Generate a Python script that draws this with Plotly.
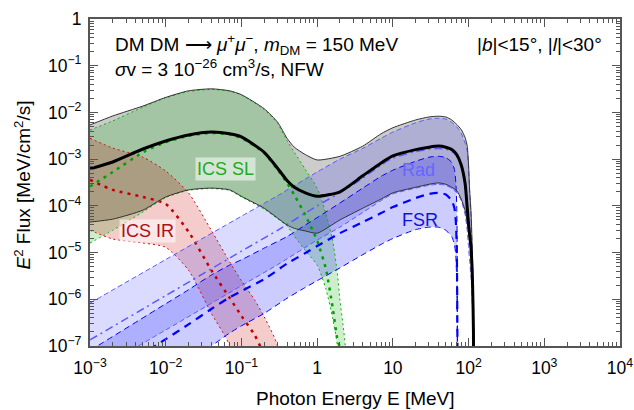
import plotly.graph_objects as go

# ---------------- spectra: E^2 dN/dE [MeV/cm^2/s] vs photon energy E [MeV] ----------------
# total (sum of all components): lower / central / upper
E_tot = [0.001, 0.002, 0.005, 0.01, 0.02, 0.04, 0.07, 0.1, 0.2, 0.3, 0.4, 0.5, 0.7, 1, 2, 4, 7,
         10, 20, 30, 40, 50, 60, 70, 80, 90, 96, 100, 103, 108, 113, 116, 118]
tot_lo = [4.5e-5, 5.2e-5, 8.1e-5, 1.55e-4, 2.2e-4, 2.4e-4, 2.2e-4, 1.6e-4, 8.9e-5, 5.5e-5, 3.9e-5,
          3.3e-5, 2.9e-5, 2.6e-5, 5e-5, 8.9e-5, 1.4e-4, 1.9e-4, 2.5e-4, 2.9e-4, 3.1e-4, 2.9e-4,
          2.5e-4, 2.1e-4, 1.4e-4, 8e-5, 4.5e-5, 3e-5, 2e-5, 1e-5, 2e-6, 1.5e-7, 1e-9]
tot_mid = [6.2e-4, 8.7e-4, 1.65e-3, 2.45e-3, 3.3e-3, 3.8e-3, 3.5e-3, 3.0e-3, 1.4e-3, 6.4e-4, 3.5e-4,
           2.5e-4, 1.9e-4, 1.6e-4, 2.0e-4, 4.4e-4, 8.3e-4, 1.17e-3, 1.6e-3, 1.8e-3, 1.9e-3, 1.8e-3,
           1.6e-3, 1.23e-3, 7.5e-4, 3e-4, 9e-5, 4e-5, 2.5e-5, 1.2e-5, 2e-6, 2e-7, 1e-9]
tot_hi = [5.4e-3, 8.4e-3, 1.37e-2, 2.1e-2, 2.9e-2, 3.2e-2, 2.9e-2, 2.4e-2, 1.2e-2, 6.2e-3, 2.8e-3,
          1.8e-3, 1.25e-3, 9.6e-4, 1.15e-3, 1.9e-3, 3.5e-3, 4.7e-3, 6.9e-3, 8.0e-3, 8.3e-3, 8.0e-3,
          6.9e-3, 5.5e-3, 4.3e-3, 2.9e-3, 1.9e-3, 7.5e-4, 2.4e-4, 7e-5, 6e-6, 4e-7, 1e-9]

# inverse Compton on starlight
E_sl = [0.001, 0.002, 0.005, 0.01, 0.02, 0.04, 0.07, 0.1, 0.2, 0.3, 0.4, 0.5, 0.7, 1, 1.3, 1.6,
        1.85, 2.0, 2.2, 2.35, 2.5]
sl_lo = [1.6e-5, 3.0e-5, 7.4e-5, 1.5e-4, 2.15e-4, 2.35e-4, 2.15e-4, 1.55e-4, 8.5e-5, 5.3e-5, 3.7e-5,
         2.25e-5, 1.1e-5, 5.4e-6, 1.7e-6, 4e-7, 1e-7, 1e-9, 1e-9, 1e-9, 1e-9]
sl_mid = [2.6e-4, 5.3e-4, 1.4e-3, 2.3e-3, 3.15e-3, 3.65e-3, 3.35e-3, 2.85e-3, 1.35e-3, 6e-4, 3.1e-4,
          1.7e-4, 6.3e-5, 1.8e-5, 4.6e-6, 6.8e-7, 1.4e-7, 9e-8, 1e-9, 1e-9, 1e-9]
sl_hi = [4.2e-3, 6.6e-3, 1.3e-2, 2.05e-2, 2.8e-2, 3.1e-2, 2.85e-2, 2.35e-2, 1.15e-2, 5.8e-3, 2.5e-3,
         1.4e-3, 6e-4, 2.4e-4, 7e-5, 1.85e-5, 3.6e-6, 9.6e-7, 2.8e-7, 1e-7, 1e-9]

# inverse Compton on infrared light
E_ir = [0.001, 0.002, 0.005, 0.01, 0.02, 0.04, 0.07, 0.1, 0.15, 0.2, 0.3, 0.35]
ir_lo = [3.0e-5, 1.95e-5, 1.6e-5, 1.3e-5, 4.2e-6, 5e-7, 1e-7, 1e-9, 1e-9, 1e-9, 1e-9, 1e-9]
ir_mid = [3.6e-4, 2.2e-4, 1.55e-4, 1.1e-4, 2.8e-5, 4.2e-6, 1.07e-6, 4.4e-7, 1.7e-7, 6e-8, 1e-9, 1e-9]
ir_hi = [2.8e-3, 1.73e-3, 1.1e-3, 5.6e-4, 1.9e-4, 3.0e-5, 6.3e-6, 2.5e-6, 9.6e-7, 4.2e-7, 1e-7, 1e-9]

# radiative muon decay
E_rad = [0.001, 0.01, 0.1, 0.3, 1, 2, 4, 7, 10, 20, 30, 40, 50, 60, 70, 80, 90, 96, 100, 103,
         108, 113, 117, 119]
rad_lo = [2.5e-8, 2.2e-7, 1.95e-6, 5.5e-6, 1.85e-5, 3.5e-5, 7.2e-5, 1.3e-4, 1.8e-4, 2.4e-4, 2.75e-4,
          2.9e-4, 2.75e-4, 2.35e-4, 1.9e-4, 1.3e-4, 6.5e-5, 3e-5, 1.3e-5, 7e-6, 3e-6, 6e-7, 1e-8, 1e-9]
rad_mid = [1.35e-7, 1.2e-6, 1.07e-5, 3.0e-5, 1.0e-4, 1.9e-4, 3.9e-4, 7.5e-4, 1.05e-3, 1.45e-3, 1.62e-3,
           1.7e-3, 1.63e-3, 1.47e-3, 1.18e-3, 7.3e-4, 2.9e-4, 8.5e-5, 3.8e-5, 2.4e-5, 1.1e-5, 1.8e-6,
           5e-8, 1e-9]
rad_hi = [8.3e-7, 7.1e-6, 6.0e-5, 1.65e-4, 5.3e-4, 1.0e-3, 1.7e-3, 2.8e-3, 3.8e-3, 6.0e-3, 7.2e-3,
          7.5e-3, 7.2e-3, 6.1e-3, 4.9e-3, 3.6e-3, 2.2e-3, 1.5e-3, 6.5e-4, 2.2e-4, 5e-5, 5e-6, 1e-7, 1e-9]

# final state radiation
E_fsr = [0.001, 0.01, 0.02, 0.04, 0.07, 0.1, 0.2, 0.4, 0.7, 1, 2, 4, 7, 10, 20, 30, 40, 50, 60,
         65, 68, 70, 71, 72]
fsr_lo = [2e-9, 2.4e-8, 5e-8, 1.0e-7, 1.9e-7, 2.7e-7, 5e-7, 1.05e-6, 1.8e-6, 2.5e-6, 4.7e-6, 9e-6,
          1.5e-5, 2e-5, 3.1e-5, 3.5e-5, 3.5e-5, 3e-5, 2.2e-5, 1.5e-5, 8e-6, 1.8e-6, 7e-8, 1e-9]
fsr_mid = [1.3e-8, 1.4e-7, 2.9e-7, 6.2e-7, 1.1e-6, 1.5e-6, 2.7e-6, 5.8e-6, 9.8e-6, 1.38e-5, 2.6e-5,
           4.5e-5, 7e-5, 9.4e-5, 1.47e-4, 1.8e-4, 1.9e-4, 1.75e-4, 1.3e-4, 9e-5, 4.5e-5, 1e-5, 4e-7, 1e-9]
fsr_hi = [8e-8, 8e-7, 1.6e-6, 3.3e-6, 5.4e-6, 7e-6, 1.25e-5, 2.2e-5, 3.9e-5, 5.6e-5, 1.15e-4, 2.4e-4,
          4.3e-4, 5.8e-4, 9e-4, 1.1e-3, 1.15e-3, 1.08e-3, 8.5e-4, 6e-4, 3e-4, 8e-5, 3e-6, 1e-9]

FONT = "Liberation Sans, Arial, Helvetica, sans-serif"
SMOOTH = 0.6


def band(E, lo, hi, fillcolor):
    return go.Scatter(x=list(E) + list(E)[::-1], y=list(hi) + list(lo)[::-1],
                      mode="lines", fill="toself", fillcolor=fillcolor,
                      line=dict(width=0, shape="spline", smoothing=SMOOTH),
                      hoverinfo="skip", showlegend=False)


def curve(E, v, color, width, dash="solid"):
    return go.Scatter(x=E, y=v, mode="lines",
                      line=dict(color=color, width=width, dash=dash, shape="spline", smoothing=SMOOTH),
                      hoverinfo="skip", showlegend=False)


fig = go.Figure()

# shaded uncertainty bands
fig.add_trace(band(E_tot, tot_lo, tot_hi, "rgba(128,128,128,0.40)"))
fig.add_trace(band(E_sl, sl_lo, sl_hi, "rgba(0,170,0,0.20)"))
fig.add_trace(band(E_ir, ir_lo, ir_hi, "rgba(200,0,0,0.20)"))
fig.add_trace(band(E_rad, rad_lo, rad_hi, "rgba(0,0,255,0.14)"))
fig.add_trace(band(E_fsr, fsr_lo, fsr_hi, "rgba(0,0,255,0.20)"))

# ICS IR lines
for v in (ir_lo, ir_hi):
    fig.add_trace(curve(E_ir, v, "#cc1111", 1, "2px,3px"))
fig.add_trace(curve(E_ir, ir_mid, "#c00000", 2.5, "3px,5px"))

# ICS SL lines
for v in (sl_lo, sl_hi):
    fig.add_trace(curve(E_sl, v, "#11aa11", 1, "2px,3px"))
fig.add_trace(curve(E_sl, sl_mid, "#00a000", 2.5, "3px,5px"))

# radiative decay lines
for v in (rad_lo, rad_hi):
    fig.add_trace(curve(E_rad, v, "#5a5aff", 1, "5px,3px"))
fig.add_trace(curve(E_rad, rad_mid, "#5a5aff", 1.5, "8px,4px,2px,4px"))

# FSR lines
for v in (fsr_lo, fsr_hi):
    fig.add_trace(curve(E_fsr, v, "#0000ff", 1, "6px,4px"))
fig.add_trace(curve(E_fsr, fsr_mid, "#0000ff", 2.2, "8px,6px"))

# total
for v in (tot_lo, tot_hi):
    fig.add_trace(curve(E_tot, v, "#333333", 1))
fig.add_trace(curve(E_tot, tot_mid, "#000000", 3))

axis_common = dict(
    type="log", showgrid=False, zeroline=False, automargin=False,
    showline=True, linecolor="#555555", linewidth=1.5, mirror="allticks",
    ticks="inside", ticklen=8, tickwidth=1, tickcolor="#555555",
    dtick=1, exponentformat="power",
    minor=dict(ticks="inside", ticklen=4, tickwidth=1, tickcolor="#555555", dtick="D1", showgrid=False),
    tickfont=dict(family=FONT, size=14, color="black"),
)

fig.update_xaxes(range=[-3, 4], ticklabelstandoff=6, **axis_common)
fig.update_yaxes(range=[-7, 0], ticklabelstandoff=4, **axis_common)

annos = [
    # in-plot component labels (log10 coordinates)
    dict(x=-1.217, y=-3.21, text="ICS SL", font=dict(family=FONT, size=18, color="#22aa22"),
         bgcolor="rgba(255,255,255,0.55)", borderpad=1),
    dict(x=-2.247, y=-4.54, text="ICS IR", font=dict(family=FONT, size=18, color="#aa1111"),
         bgcolor="rgba(255,255,255,0.55)", borderpad=1),
    dict(x=1.333, y=-3.23, text="Rad", font=dict(family=FONT, size=18, color="#6666ff")),
    dict(x=1.36, y=-4.30, text="FSR", font=dict(family=FONT, size=18, color="#1111dd")),
]
for a in annos:
    a.update(xref="x", yref="y", showarrow=False, xanchor="center", yanchor="middle")

annos += [
    dict(xref="paper", yref="paper", x=0.0434, y=0.9235, xanchor="left", yanchor="middle",
         text="DM DM \u27f6 <i>\u03bc</i><sup>+</sup><i>\u03bc</i><sup>\u2212</sup>, "
              "<i>m</i><sub>DM</sub> = 150 MeV",
         showarrow=False, font=dict(family=FONT, size=19, color="black")),
    dict(xref="paper", yref="paper", x=0.0434, y=0.850, xanchor="left", yanchor="middle",
         text="<i>\u03c3</i>v = 3 10<sup>\u221226</sup> cm<sup>3</sup>/s, NFW",
         showarrow=False, font=dict(family=FONT, size=19, color="black")),
    dict(xref="paper", yref="paper", x=0.970, y=0.9235, xanchor="right", yanchor="middle",
         text="|<i>b</i>|&lt;15\u00b0, |<i>l</i>|&lt;30\u00b0",
         showarrow=False, font=dict(family=FONT, size=19, color="black")),
    # axis titles
    dict(xref="paper", yref="paper", x=0.5, y=0, xanchor="center", yanchor="middle", yshift=-52,
         text="Photon Energy E [MeV]", showarrow=False,
         font=dict(family=FONT, size=19, color="black")),
    dict(xref="paper", yref="paper", x=0, y=0.5, xanchor="center", yanchor="middle", xshift=-68,
         yshift=-3, textangle=-90,
         text="<i>E</i><sup>2</sup> Flux [MeV/cm<sup>2</sup>/s]", showarrow=False,
         font=dict(family=FONT, size=19, color="black")),
]

fig.update_layout(
    width=634, height=410,
    margin=dict(l=90, r=14, t=19, b=64),
    paper_bgcolor="white", plot_bgcolor="white",
    showlegend=False,
    annotations=annos,
    font=dict(family=FONT),
)

fig.write_html("out.html")
